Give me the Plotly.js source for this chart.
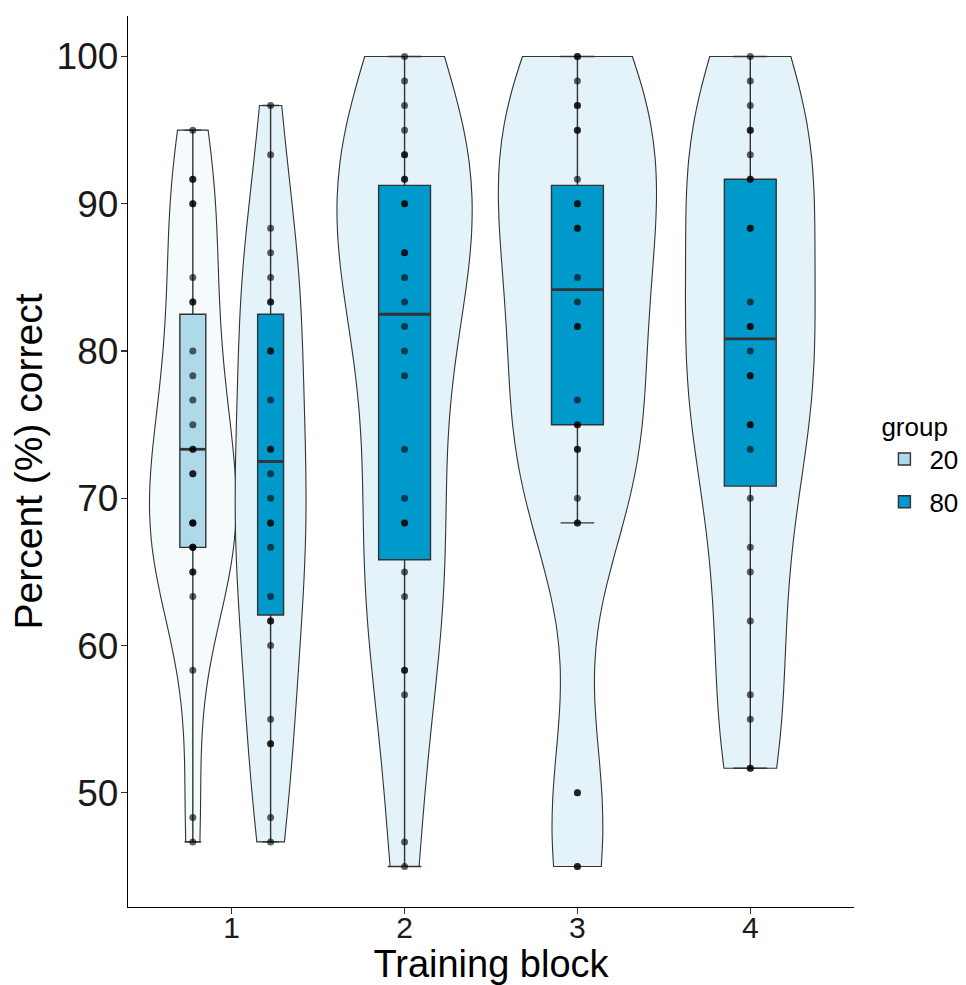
<!DOCTYPE html>
<html>
<head>
<meta charset="utf-8">
<script src="https://cdn.plot.ly/plotly-3.0.1.min.js"></script>
<style>html,body{margin:0;padding:0;background:#fff;}#chart{width:966px;height:985px;}</style>
</head>
<body>
<div id="chart"></div>
<script>
// ---- data ----
const blocks = ['1', '2', '3', '4'];
const groups = ['20', '80'];

// series: which block and group each belongs to
const seriesBlock = ['1', '1', '2', '3', '4'];
const seriesGroup = ['20', '80', '80', '80', '80'];

const b1_g20 = [95, 91.67, 91.67, 90, 90, 85, 83.33, 83.33, 80, 78.33, 76.67, 75,
  73.33, 73.33, 71.67, 71.67, 68.33, 68.33, 68.33, 66.67, 66.67, 66.67, 65, 65, 63.33, 58.33, 48.33, 46.67];
const b1_g80 = [96.67, 93.33, 88.33, 86.67, 85, 83.33, 83.33, 80, 80, 76.67, 73.33, 73.33, 71.67, 70,
  68.33, 68.33, 66.67, 63.33, 61.67, 61.67, 60, 55, 53.33, 53.33, 48.33, 46.67];
const b2_g80 = [100, 98.33, 96.67, 95, 93.33, 93.33, 91.67, 91.67, 90, 90, 86.67, 86.67, 85, 83.33, 81.67,
  80, 78.33, 73.33, 70, 68.33, 68.33, 65, 63.33, 58.33, 58.33, 56.67, 46.67, 45];
const b3_g80 = [100, 100, 98.33, 96.67, 96.67, 95, 95, 91.67, 90, 90, 88.33, 88.33, 85, 83.33, 81.67, 81.67,
  76.67, 75, 75, 73.33, 73.33, 70, 68.33, 68.33, 50, 50, 45, 45];
const b4_g80 = [100, 98.33, 96.67, 95, 95, 93.33, 91.67, 91.67, 88.33, 88.33, 83.33, 81.67, 81.67, 80,
  78.33, 78.33, 75, 75, 73.33, 70, 66.67, 65, 61.67, 56.67, 55, 51.67, 51.67];
const seriesValues = [b1_g20, b1_g80, b2_g80, b3_g80, b4_g80];

// box statistics
const boxQ1 = [66.67, 62.08, 65.83, 75, 70.83];
const boxMedian = [73.33, 72.5, 82.5, 84.17, 80.83];
const boxQ3 = [82.5, 82.5, 91.25, 91.25, 91.67];
const boxLower = [46.67, 46.67, 45, 68.33, 51.67];
const boxUpper = [95, 96.67, 100, 100, 100];

const yTicks = [50, 60, 70, 80, 90, 100];

// ---- styling ----
const boxFill = {'20': '#ADD9E8', '80': '#0099CC'};
const violinFill = {'20': '#F5FAFD', '80': '#E4F3F9'};
const violinMaxWidth = [0.50, 0.41, 0.78, 0.915, 0.75];
const dodgeWidth = 0.45;
const boxWidth = 0.3;

function quantile7(arr, p) {
  const s = arr.slice().sort((a, b) => a - b);
  const h = (s.length - 1) * p;
  const lo = Math.floor(h), hi = Math.ceil(h);
  return s[lo] + (h - lo) * (s[hi] - s[lo]);
}
function bwNrd0(arr) {
  const n = arr.length;
  const mean = arr.reduce((a, b) => a + b, 0) / n;
  const sd = Math.sqrt(arr.reduce((a, b) => a + (b - mean) * (b - mean), 0) / (n - 1));
  const iqr = quantile7(arr, 0.75) - quantile7(arr, 0.25);
  const lo = Math.min(sd, iqr / 1.34);
  return 0.9 * lo * Math.pow(n, -0.2);
}

const traces = [];
const violins = [], boxes = [], medians = [], pts = [];
seriesValues.forEach((vals, i) => {
  const blk = seriesBlock[i], grp = seriesGroup[i];
  const inBlock = seriesGroup.filter((g, j) => seriesBlock[j] === blk);
  const k = inBlock.length;
  const gi = inBlock.indexOf(grp);
  const pos = (blocks.indexOf(blk) + 1) + (k > 1 ? (gi - (k - 1) / 2) * dodgeWidth : 0);
  const bw = boxWidth / k;
  const xs = vals.map(() => pos);

  violins.push({
    type: 'violin', x: xs, y: vals, side: 'both', spanmode: 'hard',
    bandwidth: bwNrd0(vals), width: violinMaxWidth[i], scalemode: 'width',
    fillcolor: violinFill[grp], line: {color: '#333333', width: 1.1},
    points: false, box: {visible: false}, meanline: {visible: false},
    showlegend: false, hoverinfo: 'skip', name: grp
  });
  boxes.push({
    type: 'box', x: [pos], q1: [boxQ1[i]], median: [boxMedian[i]], q3: [boxQ3[i]],
    lowerfence: [boxLower[i]], upperfence: [boxUpper[i]], width: bw, whiskerwidth: 0.65,
    fillcolor: boxFill[grp], line: {color: '#333333', width: 1.4},
    boxpoints: false, name: grp, legendgroup: grp,
    showlegend: (blk === '1'), hoverinfo: 'skip'
  });
  medians.push({
    type: 'scatter', mode: 'lines', x: [pos - bw / 2, pos + bw / 2],
    y: [boxMedian[i], boxMedian[i]], line: {color: '#333333', width: 2.8},
    showlegend: false, hoverinfo: 'skip'
  });
  pts.push({
    type: 'scatter', mode: 'markers', x: xs, y: vals,
    marker: {size: 7, color: 'rgba(0,0,0,0.62)', line: {width: 0}},
    showlegend: false, hoverinfo: 'skip'
  });
});
traces.push(...violins, ...boxes, ...medians, ...pts);

const layout = {
  width: 966, height: 985,
  margin: {l: 128, r: 112, t: 16, b: 78, autoexpand: false},
  paper_bgcolor: '#ffffff', plot_bgcolor: '#ffffff',
  font: {family: 'Liberation Sans, Arial, sans-serif', color: '#000000'},
  showlegend: true,
  boxmode: 'overlay', violinmode: 'overlay',
  xaxis: {
    range: [0.4, 4.6], tickmode: 'array', tickvals: blocks.map((b, i) => i + 1), ticktext: blocks,
    showgrid: false, zeroline: false, showline: true, linecolor: '#000000', linewidth: 1.3,
    ticks: 'outside', ticklen: 6, tickwidth: 1.2, tickcolor: '#333333',
    tickfont: {size: 30, color: '#1a1a1a'}, ticklabelstandoff: -12,
    title: {text: 'Training block', font: {size: 38, color: '#000000'}, standoff: 2}
  },
  yaxis: {
    range: [42.25, 102.75], tickmode: 'array', tickvals: yTicks, ticktext: yTicks.map(String),
    showgrid: false, zeroline: false, showline: true, linecolor: '#000000', linewidth: 1.3,
    ticks: 'outside', ticklen: 6, tickwidth: 1.2, tickcolor: '#333333',
    tickfont: {size: 37, color: '#1a1a1a'}, ticklabelstandoff: -5,
    title: {text: 'Percent (%) correct', font: {size: 39, color: '#000000'}, standoff: 2}
  },
  legend: {
    x: 1.035, xanchor: 'left', y: 0.567, yanchor: 'top',
    title: {text: 'group', font: {size: 26}},
    font: {size: 26}, traceorder: 'grouped', tracegroupgap: 6, itemwidth: 40,
    bgcolor: 'rgba(0,0,0,0)'
  }
};

Plotly.newPlot('chart', traces, layout, {displayModeBar: false, staticPlot: true});
</script>
</body>
</html>
